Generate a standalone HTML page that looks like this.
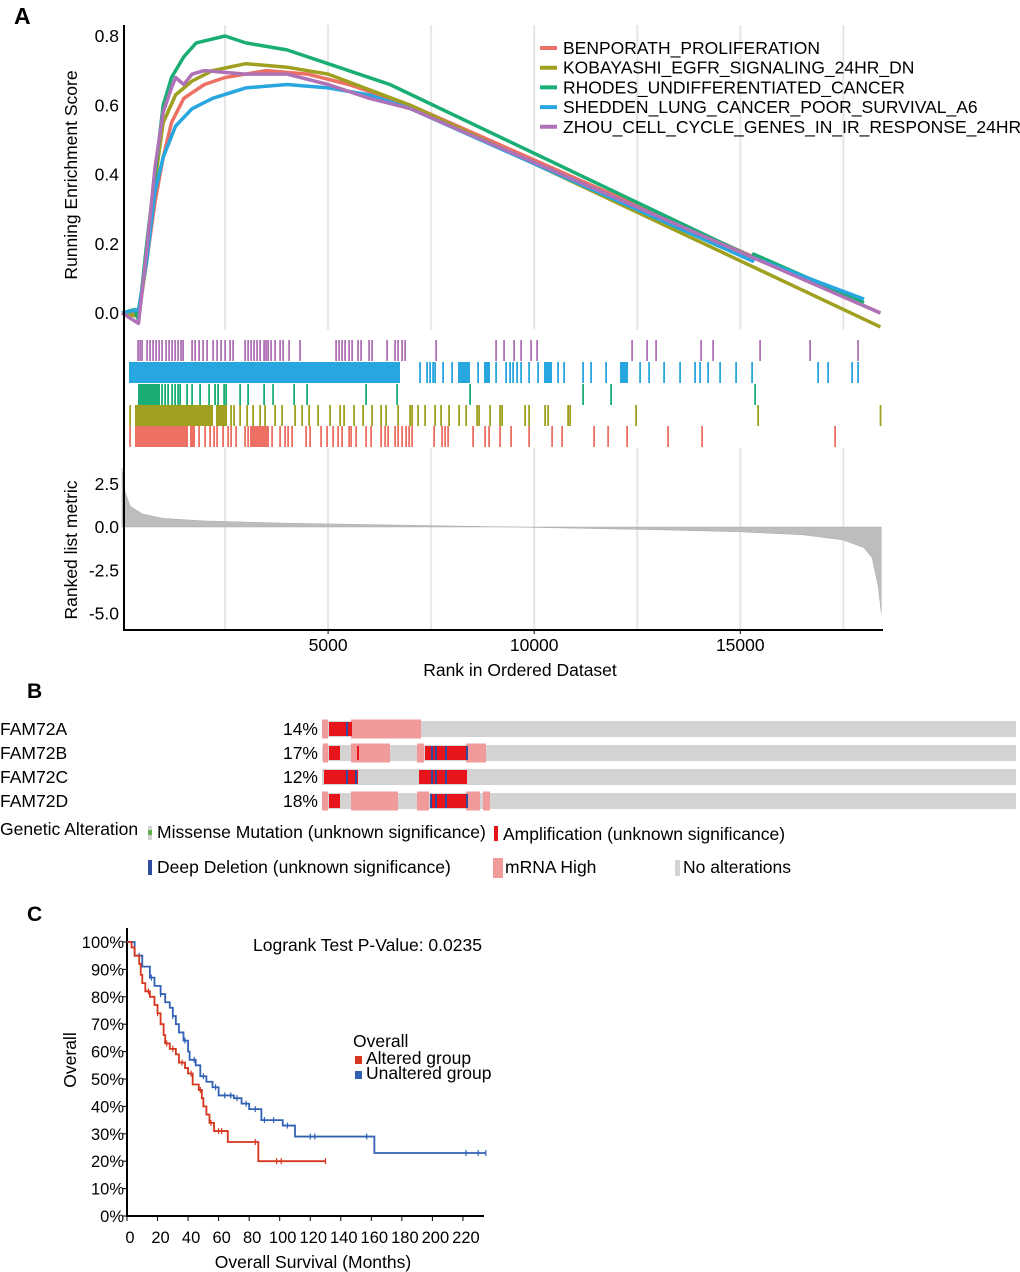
<!DOCTYPE html>
<html><head><meta charset="utf-8"><style>
body{margin:0;background:#fff}
svg{display:block;font-family:"Liberation Sans",Arial,sans-serif}
</style></head><body>
<svg id="s" width="1020" height="1272" viewBox="0 0 1020 1272" xmlns="http://www.w3.org/2000/svg">
<text x="14" y="24" font-size="23" font-weight="bold">A</text>
<text x="27" y="698" font-size="21" font-weight="bold">B</text>
<text x="27" y="921" font-size="21" font-weight="bold">C</text>
<g id="gA"></g>
<g id="gB"></g>
<g id="gC"></g>
</svg>
<script>
// ---------- Panel A data ----------
const setNames = ["BENPORATH_PROLIFERATION","KOBAYASHI_EGFR_SIGNALING_24HR_DN","RHODES_UNDIFFERENTIATED_CANCER","SHEDDEN_LUNG_CANCER_POOR_SURVIVAL_A6","ZHOU_CELL_CYCLE_GENES_IN_IR_RESPONSE_24HR"];
const setColors = ["#ec7063","#a0a020","#1aae74","#27a6df","#b072b6"];
const redRanks = [0,400,600,800,1000,1200,1500,2000,2500,3500,4500,5500,7000,18400];
const redES = [0,0,0.15,0.32,0.45,0.55,0.62,0.66,0.68,0.70,0.69,0.66,0.60,0.0];
const oliveRanks = [0,400,600,800,1000,1300,1700,2200,3000,4000,5000,7000,18400];
const oliveES = [0,-0.01,0.15,0.38,0.55,0.63,0.67,0.70,0.72,0.71,0.69,0.60,-0.04];
const greenRanks = [0,300,400,600,800,1000,1200,1500,1800,2500,3000,3500,4000,5000,6500,15300,15320,18000];
const greenES = [0,0.01,-0.02,0.2,0.4,0.6,0.68,0.74,0.78,0.8,0.78,0.77,0.76,0.72,0.66,0.16,0.17,0.03];
const blueRanks = [0,400,600,800,1000,1300,1700,2200,3000,4000,5000,6000,7000,15300,15320,18000];
const blueES = [0,0.01,0.15,0.35,0.45,0.54,0.59,0.62,0.65,0.66,0.65,0.63,0.59,0.15,0.16,0.04];
const purpleRanks = [0,400,600,800,1000,1200,1300,1500,1700,2000,3000,4000,5000,6000,7000,18400];
const purpleES = [0,-0.03,0.18,0.42,0.58,0.65,0.68,0.66,0.69,0.70,0.69,0.69,0.66,0.62,0.59,0.0];

const purpleHits = [388,437,485,607,679,752,825,898,970,1067,1140,1213,1286,1358,1431,1480,1698,1771,1868,1965,2062,2208,2305,2402,2499,2620,2693,2984,3057,3130,3202,3275,3348,3445,3493,3542,3615,3712,3833,3906,4051,4318,5192,5264,5337,5410,5507,5580,5725,5798,5992,6065,6429,6623,6696,6793,6866,7618,9073,9267,9510,9680,9922,10068,12373,12737,12955,14047,14338,15478,16691,17855];
const blueBlocks = [[170,6744],[8152,8442],[8782,8928],[10238,10432],[12081,12276]];
const blueHits = [7229,7399,7472,7545,7593,7787,8006,8637,9073,9316,9413,9486,9583,9680,9874,10092,10577,10723,11184,11378,11742,12567,12785,13149,13537,13901,14022,14217,14508,14896,15284,16885,17128,17710,17855];
const greenBlocks = [[388,922]];
const greenHits = [970,1043,1116,1213,1286,1358,1407,1577,1698,1892,2111,2256,2329,2475,2523,2863,3057,3445,3663,4173,4488,5919,6672,8442,11184,11863,15357];
const oliveBlocks = [[315,2208],[2281,2547]];
const oliveHits = [194,2644,2717,2863,3033,3178,3348,3469,3712,3882,4197,4367,4537,4755,5046,5289,5386,5628,5847,6065,6283,6405,6696,6987,7035,7181,7351,7593,7739,7933,8176,8346,8612,8661,8928,9170,9219,9777,9874,10262,10335,10820,10869,12470,15430,18400];
const redBlocks = [[315,1601],[1650,1771],[3105,3566]];
const redHits = [194,1868,2014,2135,2232,2305,2450,2572,2644,2766,2984,3057,3639,3833,3954,4027,4124,4464,4561,4828,4973,5119,5240,5337,5507,5556,5677,5919,6041,6283,6381,6453,6623,6696,6793,6890,6963,7035,7569,7763,7836,7909,8515,8806,8903,9170,9437,9874,10432,10674,11451,11791,12251,13246,14071,17297];

const metricRanks = [0,50,200,500,1000,2000,4000,6000,8000,9500,11000,13000,15000,16500,17500,18000,18200,18350,18420];
const metricVals = [3.4,2.2,1.2,0.75,0.5,0.35,0.22,0.14,0.06,0,-0.07,-0.16,-0.28,-0.45,-0.75,-1.2,-1.8,-3.5,-5.0];
const xTicks = [5000,10000,15000];
const gridRanks = [2500,7500,12500,17500];
const esTicks = [0.0,0.2,0.4,0.6,0.8];
const metricTicks = [2.5,0.0,-2.5,-5.0];

// ---------- Panel B data ----------
const genes = ["FAM72A","FAM72B","FAM72C","FAM72D"];
const genePct = ["14%","17%","12%","18%"];
const mrnaSegs = [[[322,328],[351,421]],[[323,328],[351,390],[417,424],[466,486]],[],[[322,328],[351,398],[417,429],[466,480],[483,490]]];
const ampSegs = [[[329,352]],[[329,340],[357,359],[425,468]],[[324,358],[419,467]],[[329,340],[430,467]]];
const delLines = [[347],[432,436,446,467],[347,356,432,436,446],[431,436,446,467]];

// ---------- Panel C data ----------
const altT = [0,3,5,8,9,10,12,15,18,20,22,24,25,28,32,34,38,40,43,47,49,50,52,54,57,66,86,130];
const altS = [100,98,95,92,88,85,82,80,77,74,70,66,63,61,59,56,54,52,48,46,43,40,37,34,31,27,20,20];
const altCens = [14,20,26,30,36,42,48,55,60,62,84,98,101,130];
const unT = [0,5,10,15,18,22,25,28,30,32,34,37,40,41,45,48,52,56,60,70,75,80,88,102,110,162,235];
const unS = [100,95,91,87,84,81,78,76,73,70,67,64,60,57,55,51,49,47,44,43,41,39,35,33,29,23,23];
const unCens = [8,16,22,30,38,44,50,58,64,68,72,78,84,90,96,105,120,123,157,222,230,235];
const survYTicks = [0,10,20,30,40,50,60,70,80,90,100];
const survXTicks = [0,20,40,60,80,100,120,140,160,180,200,220];

const NS="http://www.w3.org/2000/svg";
function mk(parent,tag,attrs,txt){const e=document.createElementNS(NS,tag);for(const k in attrs)e.setAttribute(k,attrs[k]);if(txt!==undefined)e.textContent=txt;parent.appendChild(e);return e;}
const FS=17.5;

// ---------- Draw A ----------
const gA=document.getElementById('gA');
const xR=r=>122+r*0.04122;
const yES=v=>313-v*346.25;
const yM=v=>527-v*17.3;
gridRanks.concat(xTicks).forEach(r=>{
  [[25,330],[448,630]].forEach(([a,b])=>{const l=mk(gA,'line',{x1:xR(r),x2:xR(r),y1:a,y2:b,stroke:'#e6e6e6','stroke-width':2});
  
  });
});
esTicks.forEach(v=>{
  const t=mk(gA,'text',{x:119,y:yES(v)+6,'font-size':FS,'text-anchor':'end'},v.toFixed(1));
  
  
});
metricTicks.forEach(v=>{
  const t=mk(gA,'text',{x:119,y:yM(v)+6,'font-size':FS,'text-anchor':'end'},v.toFixed(1));
  
  
});
xTicks.forEach(r=>{
  const t=mk(gA,'text',{x:xR(r),y:651,'font-size':FS,'text-anchor':'middle'},String(r));
  
  
  mk(gA,'line',{x1:xR(r),x2:xR(r),y1:630,y2:634,stroke:'#000'});
});
let pd='M'+xR(metricRanks[0])+','+yM(0);
metricRanks.forEach((r,i)=>{pd+=' L'+xR(r)+','+yM(metricVals[i]);});
pd+=' L'+xR(metricRanks[metricRanks.length-1])+','+yM(0)+' Z';
const area=mk(gA,'path',{d:pd,fill:'#bdbdbd',stroke:'#aaa','stroke-width':0.5});


const rows=[[redBlocks,redHits,0,426],[oliveBlocks,oliveHits,1,405],[greenBlocks,greenHits,2,384],[blueBlocks,blueHits,3,362],[[],purpleHits,4,340]];
rows.forEach(([blocks,hits,ci,y0])=>{
  blocks.forEach(b=>{const r=mk(gA,'rect',{x:xR(b[0]),y:y0,width:xR(b[1])-xR(b[0]),height:21,fill:setColors[ci]});
  
  });
  hits.forEach(h=>{const r=mk(gA,'rect',{x:xR(h)-0.8,y:y0,width:1.8,height:21,fill:setColors[ci]});
  
  });
});
const series=[[redRanks,redES],[oliveRanks,oliveES],[greenRanks,greenES],[blueRanks,blueES],[purpleRanks,purpleES]];
series.forEach(([rk,es],i)=>{
  const pts=rk.map((r,j)=>xR(r).toFixed(1)+','+yES(es[j]).toFixed(1)).join(' ');
  const p=mk(gA,'polyline',{points:pts,fill:'none',stroke:setColors[i],'stroke-width':3.5,'stroke-linejoin':'round'});
  
  
});
mk(gA,'line',{x1:124,x2:124,y1:25,y2:631,stroke:'#000','stroke-width':2});
mk(gA,'line',{x1:123,x2:883,y1:630,y2:630,stroke:'#000','stroke-width':2});
let t=mk(gA,'text',{x:0,y:0,'font-size':FS,'text-anchor':'middle',transform:'translate(77,175) rotate(-90)'},'Running Enrichment Score');

t=mk(gA,'text',{x:0,y:0,'font-size':FS,'text-anchor':'middle',transform:'translate(77,550) rotate(-90)'},'Ranked list metric');

t=mk(gA,'text',{x:520,y:676,'font-size':FS,'text-anchor':'middle'},'Rank in Ordered Dataset');

setNames.forEach((n,i)=>{
  const y=48+i*19.7;
  const sw=mk(gA,'line',{x1:540,x2:557,y1:y,y2:y,stroke:setColors[i],'stroke-width':4});
  
  
  const tt=mk(gA,'text',{x:563,y:y+6,'font-size':FS},n);
  
  
});

// ---------- Draw B ----------
const gB=document.getElementById('gB');
genes.forEach((g,i)=>{
  const yc=729+i*24;
  let e=mk(gB,'text',{x:0,y:yc+6,'font-size':FS},g);
  
  e=mk(gB,'text',{x:318,y:yc+6,'font-size':FS,'text-anchor':'end'},genePct[i]);
  
  e=mk(gB,'rect',{x:322,y:yc-8,width:694,height:16,fill:'#d3d3d3'});
  
  mrnaSegs[i].forEach(s=>{const r=mk(gB,'rect',{x:s[0],y:yc-9.5,width:s[1]-s[0],height:19,fill:'#f09a9a'});
    });
  ampSegs[i].forEach(s=>{const r=mk(gB,'rect',{x:s[0],y:yc-7,width:s[1]-s[0],height:14,fill:'#e8141c'});
    });
  delLines[i].forEach(x=>{const r=mk(gB,'rect',{x:x-1,y:yc-7,width:2,height:14,fill:'#2e4ba0'});
    });
});
let e=mk(gB,'text',{x:0,y:835,'font-size':FS},'Genetic Alteration');

mk(gB,'rect',{x:148,y:826,width:4,height:14,fill:'#d3d3d3'});
mk(gB,'rect',{x:148,y:830,width:4,height:5,fill:'#5fb04a'});
e=mk(gB,'text',{x:157,y:838,'font-size':FS},'Missense Mutation (unknown significance)');

mk(gB,'rect',{x:494,y:826,width:4,height:15,fill:'#e8141c'});
e=mk(gB,'text',{x:503,y:840,'font-size':FS},'Amplification (unknown significance)');

mk(gB,'rect',{x:148,y:860,width:4,height:15,fill:'#2e4ba0'});
e=mk(gB,'text',{x:157,y:873,'font-size':FS},'Deep Deletion (unknown significance)');

mk(gB,'rect',{x:493,y:858,width:10,height:20,fill:'#f09a9a'});
e=mk(gB,'text',{x:505,y:873,'font-size':FS},'mRNA High');

mk(gB,'rect',{x:675,y:860,width:5,height:16,fill:'#d3d3d3'});
e=mk(gB,'text',{x:683,y:873,'font-size':FS},'No alterations');


// ---------- Draw C ----------
const gC=document.getElementById('gC');
const xT=m=>127+m*1.527;
const yS=p=>1216-p*2.74;
mk(gC,'line',{x1:127,x2:127,y1:928,y2:1217,stroke:'#000','stroke-width':2});
mk(gC,'line',{x1:126,x2:484,y1:1216,y2:1216,stroke:'#000','stroke-width':2});
survYTicks.forEach(v=>{
  mk(gC,'line',{x1:122,x2:127,y1:yS(v),y2:yS(v),stroke:'#000'});
  const tt=mk(gC,'text',{x:124,y:yS(v)+6,'font-size':16.5,'text-anchor':'end'},v+'%');
  
});
survXTicks.forEach(v=>{
  mk(gC,'line',{x1:xT(v),x2:xT(v),y1:1216,y2:1221,stroke:'#000'});
  const tt=mk(gC,'text',{x:xT(v)+3,y:1243,'font-size':16.5,'text-anchor':'middle'},String(v));
  
});
function stepPath(T,S){let d='M'+xT(T[0])+','+yS(S[0]);for(let i=1;i<T.length;i++){d+=' H'+xT(T[i])+' V'+yS(S[i]);}return d;}
function survAt(T,S,tm){let s=S[0];for(let i=0;i<T.length;i++){if(T[i]<=tm)s=S[i];}return s;}
[[unT,unS,unCens,'#3261b5','unaltered'],[altT,altS,altCens,'#d5361d','altered']].forEach(([T,S,C,col,nm])=>{
  const p=mk(gC,'path',{d:stepPath(T,S),fill:'none',stroke:col,'stroke-width':1.8});
  
  
  C.forEach(c=>{const y=yS(survAt(T,S,c));const l=mk(gC,'line',{x1:xT(c),x2:xT(c),y1:y-3,y2:y+3,stroke:col,'stroke-width':1.2});
    });
});
e=mk(gC,'text',{x:0,y:0,'font-size':FS,'text-anchor':'middle',transform:'translate(76,1060) rotate(-90)'},'Overall');

e=mk(gC,'text',{x:313,y:1268,'font-size':FS,'text-anchor':'middle'},'Overall Survival (Months)');

e=mk(gC,'text',{x:253,y:951,'font-size':FS},'Logrank Test P-Value: 0.0235');

e=mk(gC,'text',{x:353,y:1047,'font-size':FS},'Overall');

mk(gC,'rect',{x:355,y:1056,width:7,height:8,fill:'#d5361d'});
e=mk(gC,'text',{x:366,y:1064,'font-size':FS},'Altered group');

mk(gC,'rect',{x:355,y:1071,width:7,height:8,fill:'#3261b5'});
e=mk(gC,'text',{x:366,y:1079,'font-size':FS},'Unaltered group');

</script>
</body></html>
